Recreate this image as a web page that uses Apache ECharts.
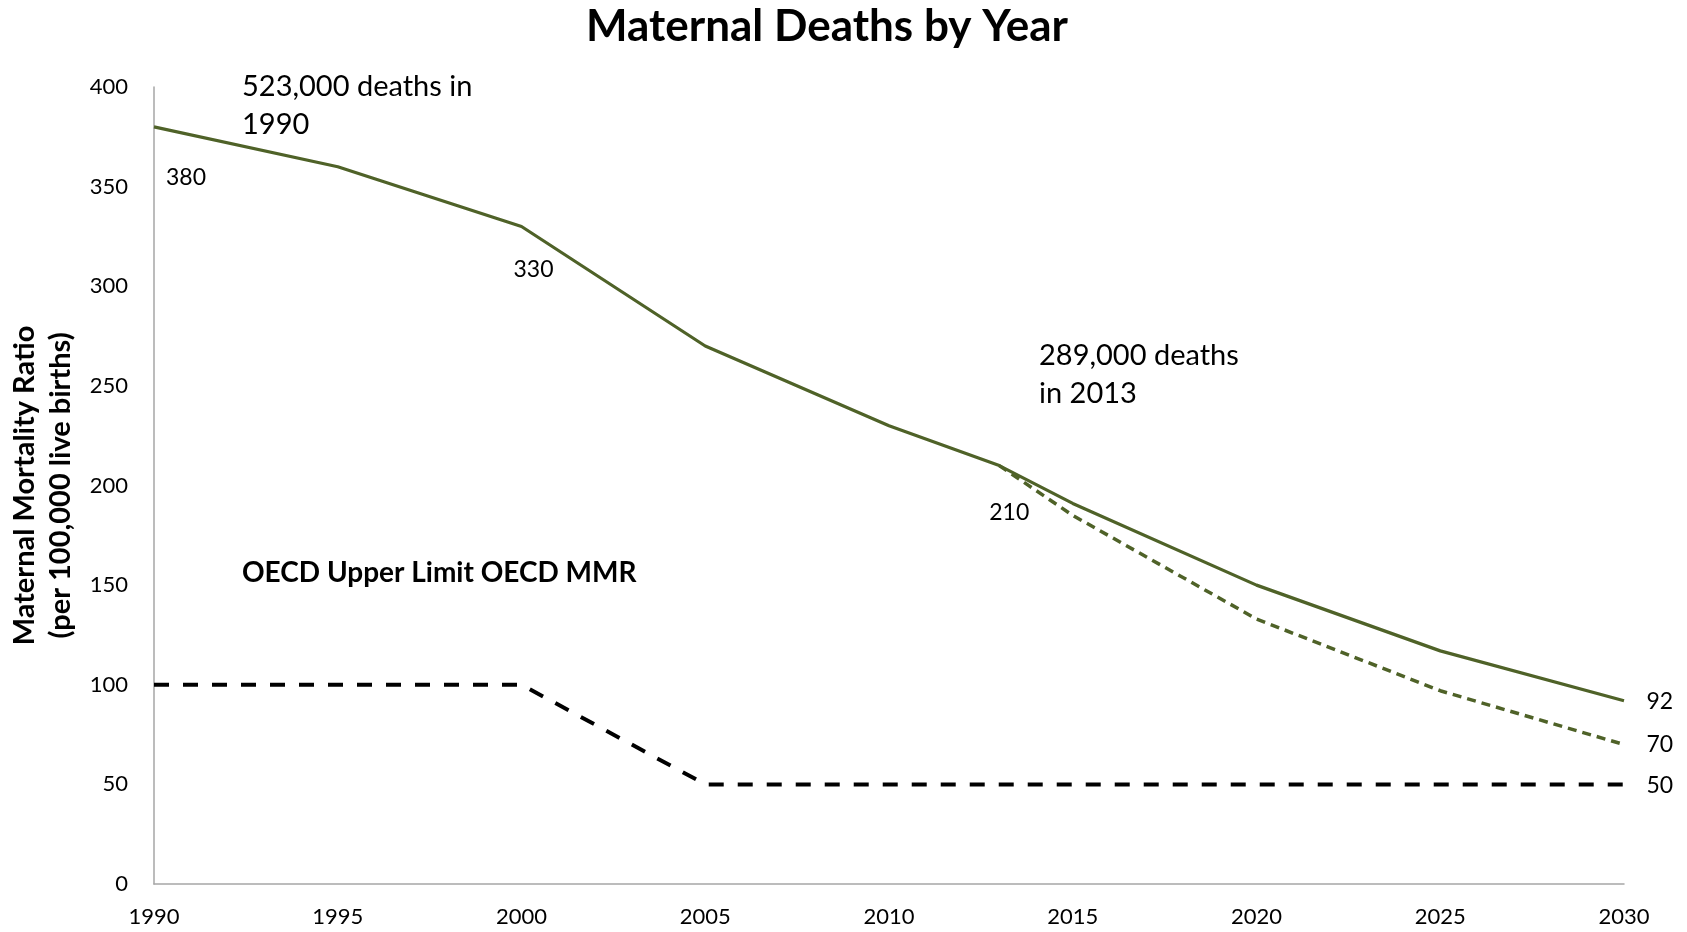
<!DOCTYPE html>
<html><head><meta charset="utf-8">
<script src="https://cdn.jsdelivr.net/npm/echarts@6/dist/echarts.min.js"></script>
<style>html,body{margin:0;padding:0;background:#fff}#c{width:1687px;height:932px}</style>
</head><body><div id="c"></div>
<script>
const mainYears = [1990, 1995, 2000, 2005, 2010, 2013, 2015, 2020, 2025, 2030];
const mainValues = [380, 360, 330, 270, 230, 210, 191, 150, 117, 92];
const projYears = [2013, 2015, 2020, 2025, 2030];
const projValues = [210, 185, 133, 97, 70];
const oecdYears = [1990, 2000, 2005, 2030];
const oecdValues = [100, 100, 50, 50];
const xTicks = {min: 1990, max: 2030, interval: 5};
const yTicks = {min: 0, max: 400, interval: 50};

const FONT = 'Lato';
const GREEN = '#4F6228';

const chart = echarts.init(document.getElementById('c'), null, {renderer: 'canvas'});

const hidden = {show: false};
const mainData = mainYears.map((y, i) => {
  const d = {value: [y, mainValues[i]], label: hidden};
  if (y === 1990) d.label = {show: true, position: 'bottom', distance: 39, offset: [32, 0]};
  else if (y === 2000) d.label = {show: true, position: 'bottom', distance: 31, offset: [12, 0]};
  else if (y === 2013) d.label = {show: true, position: 'bottom', distance: 35, offset: [10, 0]};
  else if (y === 2030) d.label = {show: true, position: 'right', distance: 22, offset: [0, 1]};
  return d;
});
const projData = projYears.map((y, i) => {
  const d = {value: [y, projValues[i]], label: hidden};
  if (i === projYears.length - 1) d.label = {show: true, position: 'right', distance: 22, offset: [0, 0]};
  return d;
});
const oecdData = oecdYears.map((y, i) => {
  const d = {value: [y, oecdValues[i]], label: hidden};
  if (i === oecdYears.length - 1) d.label = {show: true, position: 'right', distance: 22, offset: [0, 1]};
  return d;
});

const labelStyle = {color: '#000', fontFamily: FONT, fontSize: 23};
const invisibleSymbol = {symbol: 'circle', symbolSize: 1, showSymbol: true, itemStyle: {color: 'rgba(0,0,0,0)'}};

chart.setOption({
  animation: false,
  backgroundColor: '#fff',
  title: {
    text: 'Maternal Deaths by Year', left: 822, textAlign: 'center', top: 0,
    textStyle: {fontFamily: FONT, fontWeight: 'bold', fontSize: 44, color: '#000'}
  },
  grid: {left: 154, right: 63, top: 87, bottom: 48, containLabel: false, outerBoundsMode: 'none'},
  xAxis: {
    type: 'value', min: xTicks.min, max: xTicks.max, interval: xTicks.interval,
    axisLine: {show: true, lineStyle: {color: '#A6A6A6', width: 1.5}},
    axisTick: {show: false}, splitLine: {show: false},
    axisLabel: {formatter: v => String(v), color: '#000', fontFamily: FONT, fontSize: 22, margin: 22}
  },
  yAxis: {
    type: 'value', min: yTicks.min, max: yTicks.max, interval: yTicks.interval,
    axisLine: {show: true, lineStyle: {color: '#A6A6A6', width: 1.5}},
    axisTick: {show: false}, splitLine: {show: false},
    axisLabel: {color: '#000', fontFamily: FONT, fontSize: 22, margin: 26},
    name: 'Maternal Mortality Ratio\n(per 100,000 live births)',
    nameLocation: 'middle', nameRotate: 90, nameGap: 75,
    nameTextStyle: {fontFamily: FONT, fontWeight: 'bold', fontSize: 29, color: '#000', lineHeight: 36}
  },
  series: [
    Object.assign({
      type: 'line', data: mainData, z: 3,
      lineStyle: {color: GREEN, width: 3.2},
      label: Object.assign({show: false}, labelStyle)
    }, invisibleSymbol),
    Object.assign({
      type: 'line', data: projData, z: 2,
      lineStyle: {color: GREEN, width: 3.5, type: [9, 6]},
      label: Object.assign({show: false}, labelStyle)
    }, invisibleSymbol),
    Object.assign({
      type: 'line', data: oecdData, z: 2,
      lineStyle: {color: '#000', width: 4, type: [15, 14]},
      label: Object.assign({show: false}, labelStyle)
    }, invisibleSymbol)
  ],
  graphic: [
    {type: 'text', left: 242, top: 68, style: {text: '523,000 deaths in\n1990', font: '29px Lato', fill: '#000', lineHeight: 38}},
    {type: 'text', left: 1039, top: 337, style: {text: '289,000 deaths\nin 2013', font: '29px Lato', fill: '#000', lineHeight: 38}},
    {type: 'text', left: 242, top: 559, style: {text: 'OECD Upper Limit OECD MMR', font: 'bold 28px Lato', fill: '#000'}}
  ]
});
</script></body></html>
